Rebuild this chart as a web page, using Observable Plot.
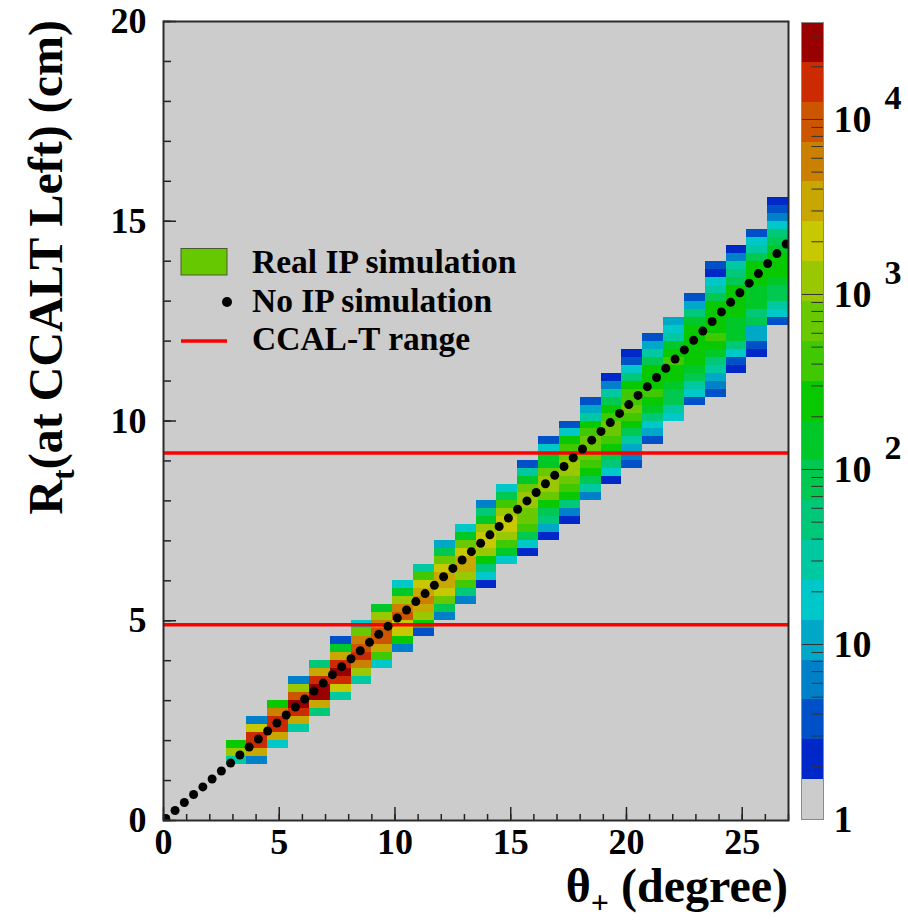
<!DOCTYPE html>
<html>
<head>
<meta charset="utf-8">
<script src="https://cdn.jsdelivr.net/npm/d3@7"></script>
<script src="https://cdn.jsdelivr.net/npm/@observablehq/plot@0.6"></script>
<style>
  body { margin: 0; background: #ffffff; }
  #wrap { position: relative; width: 908px; height: 922px; font-family: "Liberation Serif", "Times New Roman", serif; }
  #wrap svg { position: absolute; top: 0; }
</style>
</head>
<body>
<div id="wrap"></div>
<script>
// ---------------- data ----------------
const thetaBinWidth = 0.9;   // degree
const rBinWidth = 0.2;       // cm

// low edge (theta) of every filled column of the 2D histogram
const columnTheta = [2.7, 3.6, 4.5, 5.4, 6.3, 7.2, 8.1, 9.0, 9.9, 10.8, 11.7, 12.6, 13.5, 14.4,
  15.3, 16.2, 17.1, 18.0, 18.9, 19.8, 20.7, 21.6, 22.5, 23.4, 24.3, 25.2, 26.1];
// low edge (R) of the lowest filled bin in each column
const columnRStart = [1.4, 1.4, 1.8, 2.2, 2.6, 3.0, 3.4, 3.8, 4.2, 4.6, 5.0, 5.4, 5.8, 6.4,
  6.6, 7.0, 7.4, 8.0, 8.4, 8.8, 9.4, 10.0, 10.4, 10.6, 11.2, 11.6, 12.4];
// counts of the filled bins, bottom to top, per column
const columnCounts = [
  [30, 1150, 240],
  [6, 3300, 16000, 16000, 1900, 6],
  [18, 3300, 16000, 16000, 5600, 240],
  [30, 3300, 16000, 27000, 9500, 1150, 6],
  [50, 3300, 27000, 27000, 16000, 3300, 50],
  [30, 1900, 16000, 27000, 16000, 3300, 140, 4],
  [30, 1150, 5600, 16000, 9500, 5600, 680, 18],
  [18, 400, 3300, 9500, 9500, 5600, 1150, 140],
  [6, 240, 1900, 1900, 9500, 5600, 1150, 140, 18],
  [4, 240, 1150, 3300, 5600, 3300, 1900, 400, 30],
  [6, 85, 680, 1900, 3300, 3300, 1900, 680, 85, 11],
  [6, 50, 400, 1150, 3300, 3300, 1900, 680, 140, 18],
  [2, 18, 50, 240, 1150, 1900, 1900, 1150, 140, 50, 6],
  [18, 140, 400, 1150, 1900, 1900, 1150, 400, 85, 18],
  [2, 18, 85, 400, 680, 680, 1150, 1150, 680, 140, 30, 4],
  [2, 11, 50, 85, 240, 680, 1150, 1150, 680, 140, 140, 18, 4],
  [2, 6, 50, 240, 400, 680, 1150, 1150, 680, 400, 240, 18, 4],
  [6, 30, 85, 240, 400, 680, 680, 680, 400, 240, 30, 11, 4],
  [2, 18, 50, 85, 240, 400, 680, 680, 400, 240, 85, 30, 6, 2],
  [4, 6, 11, 30, 85, 240, 400, 680, 400, 400, 240, 50, 18, 4, 2],
  [4, 11, 18, 50, 140, 240, 400, 240, 240, 240, 85, 30, 11, 4],
  [18, 30, 85, 85, 140, 240, 240, 400, 240, 140, 30, 18, 11],
  [4, 18, 30, 85, 140, 240, 240, 240, 240, 240, 140, 50, 11, 4],
  [4, 6, 11, 30, 50, 140, 240, 400, 240, 240, 240, 240, 85, 30, 18, 2, 4],
  [2, 4, 18, 50, 140, 140, 140, 240, 240, 240, 240, 85, 50, 30, 6, 2],
  [2, 4, 11, 11, 85, 50, 140, 140, 140, 240, 240, 240, 85, 30, 18, 4],
  [4, 18, 30, 85, 85, 140, 240, 240, 240, 140, 85, 50, 18, 6, 4, 2]
];

// "No IP simulation" points
const noIpTheta = [0.1, 0.5, 0.9, 1.3, 1.7, 2.1, 2.5, 2.9, 3.3, 3.7, 4.1, 4.5, 4.9, 5.3, 5.7,
  6.1, 6.5, 6.9, 7.3, 7.7, 8.1, 8.5, 8.9, 9.3, 9.7, 10.1, 10.5, 10.9, 11.3, 11.7, 12.1, 12.5,
  12.9, 13.3, 13.7, 14.1, 14.5, 14.9, 15.3, 15.7, 16.1, 16.5, 16.9, 17.3, 17.7, 18.1, 18.5,
  18.9, 19.3, 19.7, 20.1, 20.5, 20.9, 21.3, 21.7, 22.1, 22.5, 22.9, 23.3, 23.7, 24.1, 24.5,
  24.9, 25.3, 25.7, 26.1, 26.5, 26.9];
const noIpR = [0.05, 0.25, 0.45, 0.65, 0.84, 1.04, 1.24, 1.44, 1.64, 1.84, 2.04, 2.24, 2.44,
  2.64, 2.84, 3.04, 3.24, 3.44, 3.65, 3.85, 4.05, 4.25, 4.46, 4.66, 4.86, 5.07, 5.27, 5.48,
  5.68, 5.89, 6.10, 6.31, 6.52, 6.73, 6.94, 7.15, 7.36, 7.57, 7.79, 8.00, 8.21, 8.43, 8.64,
  8.86, 9.08, 9.30, 9.52, 9.74, 9.96, 10.19, 10.41, 10.64, 10.86, 11.09, 11.32, 11.55, 11.78,
  12.02, 12.25, 12.49, 12.73, 12.97, 13.21, 13.45, 13.69, 13.94, 14.19, 14.43];

// CCAL-T range (R, cm)
const ccalRange = [4.9, 9.2];

// axis ticks
const xMajorTicks = [0, 5, 10, 15, 20, 25];
const xMinorTicks = d3.range(0, 28, 1);
const yMajorTicks = [0, 5, 10, 15, 20];
const yMinorTicks = d3.range(0, 21, 1);

// colour palette: 20 log contours between 1 and zMax
const zMax = 35800;
const nContours = 20;
const palette = ["#cccccc", "#0028c8", "#0050c8", "#0080c8", "#00a8c8", "#00c8c8", "#00c8a0",
  "#00c878", "#00c850", "#00c828", "#08c800", "#40c800", "#6ac800", "#99c800", "#c8c800",
  "#c8a800", "#cc8000", "#cc5500", "#cc2a00", "#990000"];
const cbarMajor = [1, 10, 100, 1000, 10000];
const cbarBase = ["1", "10", "10", "10", "10"];
const cbarExp = ["", "", "2", "3", "4"];
const cbarMinor = [2, 3, 4, 5, 6, 7, 8, 9, 20, 30, 40, 50, 60, 70, 80, 90, 200, 300, 400, 500,
  600, 700, 800, 900, 2000, 3000, 4000, 5000, 6000, 7000, 8000, 9000, 20000, 30000];

const legendLabels = ["Real IP simulation", "No IP simulation", "CCAL-T range"];

// ---------------- build ----------------
const serif = '"Liberation Serif", "Times New Roman", serif';
const cells = [];
columnTheta.forEach((t, i) => {
  columnCounts[i].forEach((c, j) => {
    const r0 = columnRStart[i] + j * rBinWidth;
    cells.push({x1: t, x2: t + thetaBinWidth, y1: r0, y2: r0 + rBinWidth, count: c});
  });
});
const noIp = noIpTheta.map((t, i) => ({theta: t, r: noIpR[i]}));

const logStep = Math.log10(zMax) / nContours;
const thresholds = d3.range(1, nContours).map(k => Math.pow(10, k * logStep));
const bands = d3.range(nContours).map(k => ({lo: Math.pow(10, k * logStep), hi: Math.pow(10, (k + 1) * logStep)}));
const colorScale = {type: "threshold", domain: thresholds, range: palette};

const axisStroke = "#222222";
const main = Plot.plot({
  width: 908, height: 922,
  marginLeft: 163, marginRight: 120, marginTop: 21, marginBottom: 102,
  x: {domain: [0, 27], axis: null},
  y: {domain: [0, 20], axis: null},
  color: colorScale,
  style: {fontFamily: serif, background: "transparent", overflow: "visible"},
  marks: [
    Plot.frame({fill: "#cccccc", stroke: null}),
    Plot.rect(cells, {x1: "x1", x2: "x2", y1: "y1", y2: "y2", fill: "count", shapeRendering: "crispEdges"}),
    Plot.ruleY(ccalRange, {stroke: "#ff0000", strokeWidth: 3.5}),
    Plot.dot(noIp, {x: "theta", y: "r", r: 4.5, fill: "black", stroke: null, clip: true}),
    Plot.axisX({ticks: xMinorTicks, tickSize: -6, tickFormat: () => "", stroke: axisStroke, strokeWidth: 1.5, label: null}),
    Plot.axisX({ticks: xMajorTicks, tickSize: -13, tickFormat: () => "", stroke: axisStroke, strokeWidth: 1.5, label: null}),
    Plot.axisY({ticks: yMinorTicks, tickSize: -8, tickFormat: () => "", stroke: axisStroke, strokeWidth: 1.5, label: null}),
    Plot.axisY({ticks: yMajorTicks, tickSize: -13, tickFormat: () => "", stroke: axisStroke, strokeWidth: 1.5, label: null}),
    Plot.axisX({ticks: xMajorTicks, tickSize: 0, tickPadding: 8, fontSize: 36, fontWeight: "bold", fontFamily: serif, fill: "black", label: null}),
    Plot.axisY({ticks: yMajorTicks, tickSize: 0, tickPadding: 17, fontSize: 36, fontWeight: "bold", fontFamily: serif, fill: "black", label: null}),
    Plot.frame({stroke: "#2a2a2a", strokeWidth: 2})
  ]
});

// legend + titles (text kept as real text)
const svg = d3.select(main);
const lg = svg.append("g").attr("font-family", serif).attr("font-weight", "bold").attr("font-size", 33.5)
  .attr("fill", "black").attr("text-anchor", "start");
lg.append("rect").attr("x", 181).attr("y", 248.5).attr("width", 46).attr("height", 26.5)
  .attr("fill", "#66c800").attr("stroke", "#4d5a30").attr("stroke-width", 1);
lg.append("circle").attr("cx", 227).attr("cy", 302).attr("r", 5).attr("fill", "black");
lg.append("line").attr("x1", 181).attr("x2", 227).attr("y1", 341).attr("y2", 341)
  .attr("stroke", "#ff0000").attr("stroke-width", 3.5);
[273, 312, 350].forEach((yy, i) => lg.append("text").attr("x", 252).attr("y", yy)
  .attr("text-anchor", "start").text(legendLabels[i]));

const xt = svg.append("text").attr("x", 788).attr("y", 902).attr("text-anchor", "end")
  .attr("font-family", serif).attr("font-weight", "bold").attr("font-size", 48).attr("fill", "black");
xt.append("tspan").text("θ");
xt.append("tspan").attr("font-size", 32).attr("dy", 11).text("+");
xt.append("tspan").attr("dy", -11).text(" (degree)");

const yt = svg.append("text").attr("transform", "translate(62,20) rotate(-90)").attr("text-anchor", "end")
  .attr("font-family", serif).attr("font-weight", "bold").attr("font-size", 48).attr("fill", "black");
yt.append("tspan").text("R");
yt.append("tspan").attr("font-size", 32).attr("dy", 12).text("t");
yt.append("tspan").attr("dy", -12).text("(at CCALT Left) (cm)");

// colour bar
const cbar = Plot.plot({
  width: 118, height: 922,
  marginLeft: 11, marginRight: 85, marginTop: 22, marginBottom: 103,
  x: {domain: [0, 1], axis: null},
  y: {type: "log", domain: [1, zMax], axis: null},
  color: colorScale,
  style: {fontFamily: serif, background: "transparent", overflow: "visible"},
  marks: [
    Plot.rect(bands, {x1: 0, x2: 1, y1: "lo", y2: "hi", fill: d => Math.sqrt(d.lo * d.hi), shapeRendering: "crispEdges"}),
    Plot.ruleY(cbarMinor, {x1: 0.47, x2: 1, stroke: "#333333", strokeWidth: 1}),
    Plot.ruleY(cbarMajor, {x1: 0, x2: 1, stroke: "#333333", strokeWidth: 1}),
    Plot.frame({stroke: "#8a8a8a", strokeWidth: 1}),
    Plot.text(cbarMajor, {x: 1, y: d => d, text: (d, i) => cbarBase[i], dx: 10, textAnchor: "start",
      fontSize: 38, fontWeight: "bold", fontFamily: serif, fill: "black"}),
    Plot.text(cbarMajor, {x: 1, y: d => d, text: (d, i) => cbarExp[i], dx: 61, dy: -21, textAnchor: "start",
      fontSize: 34, fontWeight: "bold", fontFamily: serif, fill: "black"})
  ]
});

const wrap = document.getElementById("wrap");
main.style.left = "0px";
cbar.style.left = "790px";
wrap.appendChild(main);
wrap.appendChild(cbar);
</script>
</body>
</html>
